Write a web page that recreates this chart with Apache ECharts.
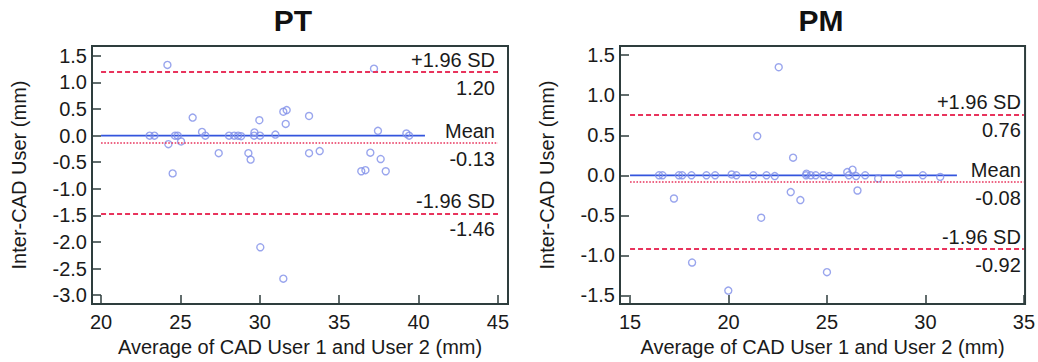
<!DOCTYPE html>
<html>
<head>
<meta charset="utf-8">
<script src="https://cdn.jsdelivr.net/npm/echarts@6/dist/echarts.min.js"></script>
<style>
  html, body { margin: 0; padding: 0; background: #fff; }
  #chart { width: 1038px; height: 362px; }
</style>
</head>
<body>
<div id="chart"></div>
<script>
// PT panel: average (x) vs difference (y)
const ptX = [24.18, 37.19, 25.77, 26.36, 26.57, 23.06, 23.36, 24.66, 24.83, 24.24,
  25.04, 24.51, 27.41, 28.06, 28.38, 28.63, 28.82, 29.28, 29.42, 29.66,
  29.64, 29.97, 30.01, 30.03, 30.98, 31.48, 31.69, 31.63, 31.48, 33.10,
  33.10, 33.77, 36.39, 36.65, 36.96, 37.44, 37.61, 37.93, 39.23, 39.40];
const ptY = [1.33, 1.26, 0.34, 0.07, 0.00, 0.00, 0.00, 0.00, 0.00, -0.16,
  -0.11, -0.71, -0.33, 0.00, 0.00, 0.00, -0.01, -0.33, -0.45, 0.06,
  0.00, 0.29, 0.00, -2.10, 0.02, 0.45, 0.48, 0.22, -2.69, 0.37,
  -0.33, -0.29, -0.67, -0.65, -0.32, 0.09, -0.44, -0.67, 0.04, 0.00];

// PM panel
const pmX = [22.55, 21.46, 23.28, 17.23, 21.66, 23.16, 23.65, 26.55, 18.15, 19.99,
  25.00, 27.60, 30.75, 16.47, 16.65, 17.48, 17.65, 18.12, 18.88, 19.32,
  20.16, 20.40, 21.26, 21.93, 22.35, 23.96, 23.94, 24.18, 24.43, 24.81,
  25.12, 26.03, 26.30, 26.11, 26.48, 26.94, 28.66, 29.87];
const pmY = [1.35, 0.49, 0.22, -0.29, -0.53, -0.21, -0.31, -0.19, -1.09, -1.44,
  -1.21, -0.04, -0.02, 0.00, 0.00, 0.00, 0.00, 0.00, 0.00, 0.00,
  0.01, 0.00, 0.00, 0.00, -0.01, 0.02, 0.00, 0.00, 0.00, 0.00,
  -0.01, 0.04, 0.07, 0.00, -0.01, 0.00, 0.01, 0.00];

// limits of agreement: +1.96 SD, mean, -1.96 SD
const limitNames = ['+1.96 SD', 'Mean', '-1.96 SD'];
const ptLimits = [1.20, -0.13, -1.46];
const pmLimits = [0.76, -0.08, -0.92];
const ptLimitSpan = [20, 45];
const pmLimitSpan = [15, 35];
const ptZeroSpan = [20, 40.4];
const pmZeroSpan = [15, 31.6];

// tick labels
const ptXTicks = [20, 25, 30, 35, 40, 45];
const ptYTicks = [1.5, 1.0, 0.5, 0.0, -0.5, -1.0, -1.5, -2.0, -2.5, -3.0];
const pmXTicks = [15, 20, 25, 30, 35];
const pmYTicks = [1.5, 1.0, 0.5, 0.0, -0.5, -1.0, -1.5];

const FONT = 'Liberation Sans, Arial, sans-serif';
const RED = '#e8335c';
const BLUE = '#3355dd';
const DOT = '#7f8ee8';
const FRAME = '#2e3d3d';
const INK = '#1a1a1a';

function xAxisFor(gridIndex, min, max, ticks) {
  return {
    type: 'value', gridIndex, min, max,
    name: 'Average of CAD User 1 and User 2 (mm)',
    nameLocation: 'middle', nameGap: 33,
    nameTextStyle: { fontFamily: FONT, fontSize: 20, color: INK },
    axisLine: { show: true, onZero: false, lineStyle: { color: FRAME, width: 2 } },
    axisTick: { inside: true, length: 9, customValues: ticks, lineStyle: { color: FRAME, width: 1.5 } },
    axisLabel: { customValues: ticks, fontFamily: FONT, fontSize: 20, color: INK, margin: 8,
      formatter: v => String(Math.round(v)) },
    splitLine: { show: false }
  };
}

function yAxisFor(gridIndex, min, max, ticks) {
  return {
    type: 'value', gridIndex, min, max,
    name: 'Inter-CAD User (mm)',
    nameLocation: 'middle', nameGap: 63,
    nameTextStyle: { fontFamily: FONT, fontSize: 20, color: INK },
    axisLine: { show: true, onZero: false, lineStyle: { color: FRAME, width: 2 } },
    axisTick: { inside: true, length: 9, customValues: ticks, lineStyle: { color: FRAME, width: 1.5 } },
    axisLabel: { customValues: ticks, fontFamily: FONT, fontSize: 20, color: INK, margin: 5,
      formatter: v => v.toFixed(1) },
    splitLine: { show: false }
  };
}

function limitLine(y, span, name, dashed) {
  const style = { color: RED, width: dashed ? 1.8 : 1.6, type: dashed ? [5, 3] : [1.6, 1.6] };
  const lbl = { show: true, fontFamily: FONT, fontSize: 20, color: INK };
  return [
    [{ coord: [span[0], y], lineStyle: style,
       label: Object.assign({ position: 'insideEndTop', formatter: name, distance: [3, 2] }, lbl) },
     { coord: [span[1], y] }],
    [{ coord: [span[0], y], lineStyle: { color: 'rgba(0,0,0,0)', width: 0 },
       label: Object.assign({ position: 'insideEndBottom', formatter: y.toFixed(2), distance: [3, 6] }, lbl) },
     { coord: [span[1], y] }]
  ];
}

function panelSeries(idx, xs, ys, limits, limitSpan, zeroSpan) {
  const marks = [];
  limits.forEach((v, i) => marks.push(...limitLine(v, limitSpan, limitNames[i], i !== 1)));
  return [
    {
      type: 'line', xAxisIndex: idx, yAxisIndex: idx,
      data: zeroSpan.map(x => [x, 0]),
      symbol: 'none', lineStyle: { color: BLUE, width: 1.8 },
      silent: true, z: 2,
      markLine: { symbol: 'none', silent: true, animation: false, data: marks }
    },
    {
      type: 'scatter', xAxisIndex: idx, yAxisIndex: idx,
      data: xs.map((x, i) => [x, ys[i]]),
      symbol: 'circle', symbolSize: 7,
      itemStyle: { color: 'rgba(0,0,0,0)', borderColor: DOT, borderWidth: 1.4 },
      z: 3
    }
  ];
}

const chart = echarts.init(document.getElementById('chart'), null, { renderer: 'svg' });
chart.setOption({
  backgroundColor: '#fff',
  animation: false,
  title: [
    { text: 'PT', left: 293, top: 5, textAlign: 'center', padding: 0,
      textStyle: { fontFamily: FONT, fontSize: 30, fontWeight: 'bold', color: '#111' } },
    { text: 'PM', left: 821, top: 5, textAlign: 'center', padding: 0,
      textStyle: { fontFamily: FONT, fontSize: 30, fontWeight: 'bold', color: '#111' } }
  ],
  grid: [
    { left: 92, right: 530, top: 46, bottom: 55, show: true, borderColor: FRAME, borderWidth: 2 },
    { left: 620, right: 12, top: 46, bottom: 55, show: true, borderColor: FRAME, borderWidth: 2 }
  ],
  xAxis: [
    xAxisFor(0, 19.43, 45.63, ptXTicks),
    xAxisFor(1, 14.49, 35.06, pmXTicks)
  ],
  yAxis: [
    yAxisFor(0, -3.167, 1.686, ptYTicks),
    yAxisFor(1, -1.608, 1.615, pmYTicks)
  ],
  series: [
    ...panelSeries(0, ptX, ptY, ptLimits, ptLimitSpan, ptZeroSpan),
    ...panelSeries(1, pmX, pmY, pmLimits, pmLimitSpan, pmZeroSpan)
  ]
});
</script>
</body>
</html>
